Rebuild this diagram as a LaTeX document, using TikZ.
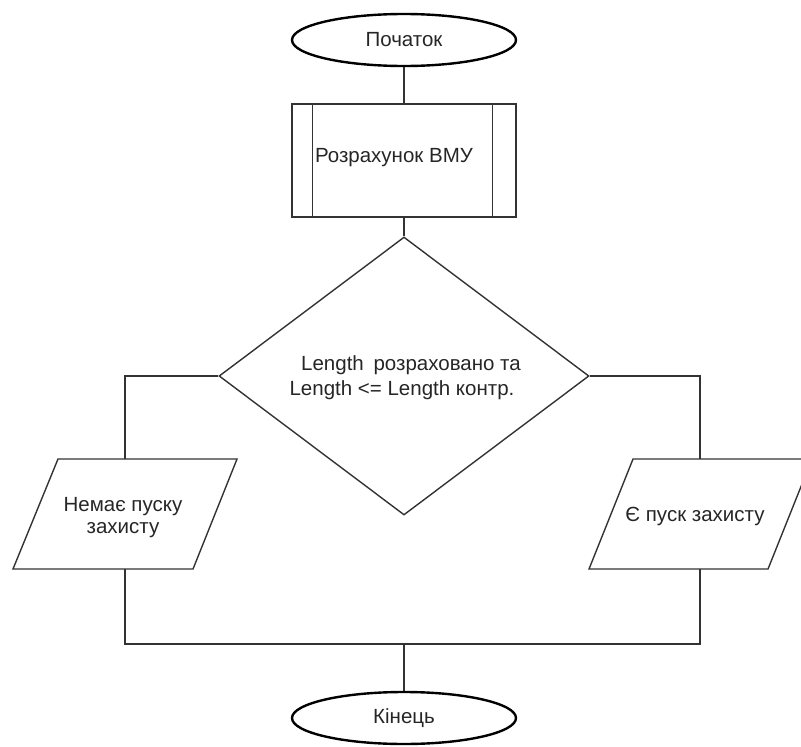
\documentclass[tikz,border=0pt]{standalone}
\usepackage{fontspec}
\setmainfont{Liberation Sans}
\usetikzlibrary{shapes.geometric}
\begin{document}
\begin{tikzpicture}[x={(1pt,0pt)}, y={(0pt,-1pt)},
  every node/.style={font=\fontsize{20.5}{22}\selectfont, text=black!85},
  term/.style={ellipse, draw=black, line width=2.4pt, minimum width=224pt, minimum height=52pt, inner sep=0pt},
  line/.style={draw=black!80, line width=1.4pt},
  sub/.style={rectangle, draw=black!80, line width=1.4pt, minimum width=224pt, minimum height=113pt, inner sep=0pt},
  dec/.style={diamond, draw=black!80, line width=1.4pt, minimum width=370pt, minimum height=278pt, inner sep=0pt},
  txt/.style={inner sep=0pt, align=center}
]
\useasboundingbox (0,0) rectangle (801,747);
\clip (0,0) rectangle (801,747);

% terminals
\node[term] (start) at (404,40) {Початок};
\node[term] (stop) at (404,718) {Кінець};

% predefined process with its two side bars
\node[sub] (calc) at (404,160.5) {};
\draw[line] ([xshift=21pt]calc.north west) -- ([xshift=21pt]calc.south west);
\draw[line] ([xshift=-24pt]calc.north east) -- ([xshift=-24pt]calc.south east);
\node[txt] (calcT) at (394,158) {Розрахунок ВМУ};

% decision
\node[dec] (cond) at (404,376) {};
\node[txt] (q1) at (411,365) {Length\hspace{4pt} розраховано та};
\node[txt] (q2) at (402,390) {Length <= Length контр.};

% output blocks
\draw[line] (58,459) -- (237,459) -- (193,569) -- (13,569) -- cycle;
\node[txt] (no) at (123,518) {Немає пуску\\захисту};
\coordinate (nT) at (125,459);
\coordinate (nB) at (125,569);

\draw[line] (633,459) -- (812,459) -- (768,569) -- (589,569) -- cycle;
\node[txt] (yes) at (695,516) {Є пуск захисту};
\coordinate (yT) at (700,459);
\coordinate (yB) at (700,569);

% connectors
\coordinate (join) at (404,644);
\draw[line] (start.south) -- (calc.north);
\draw[line] (calc.south) -- (cond.north);
\draw[line] (cond.west) -| (nT);
\draw[line] (cond.east) -| (yT);
\draw[line] (nB) |- (join) -| (yB);
\draw[line] (join) -- (stop.north);
\end{tikzpicture}
\end{document}
